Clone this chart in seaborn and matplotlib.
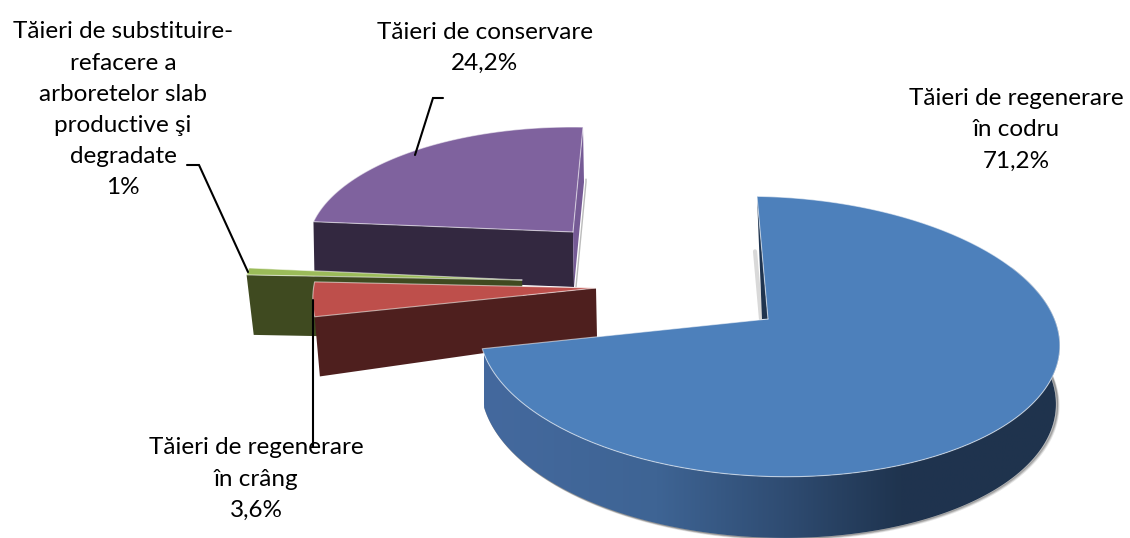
import numpy as np
import matplotlib
matplotlib.use("Agg")
import matplotlib.pyplot as plt
from matplotlib.colors import LinearSegmentedColormap
from matplotlib.patches import Polygon
import seaborn as sns

sns.set_theme(style="white")
plt.rcParams['font.family'] = ['Lato', 'DejaVu Sans']

# data
categories = ["Tăieri de regenerare\nîn codru",
              "Tăieri de regenerare\nîn crâng",
              "Tăieri de substituire-\nrefacere a\narboretelor slab\nproductive şi\ndegradate",
              "Tăieri de conservare"]
shares = [71.2, 3.6, 1.0, 24.2]
share_labels = ["71,2%", "3,6%", "1%", "24,2%"]

top_colors = sns.color_palette(["#4D80BB", "#BE4F4B", "#9BBB59", "#7F629E"])
side_colors = sns.color_palette(["#44699E", "#4E1F1E", "#3F4A20", "#332840"])

# projection of each exploded slice (pixel-space layout)
geom = [
    dict(A=(768, 319), Ab=(767, 377), R=288, Ry=138, k=.125, skew=-11, shear=4, sx=.99, sy=1.02),
    dict(A=(596, 288), Ab=(597, 337), R=281, Ry=150, k=.125, skew=0, shear=8, sx=.985, sy=1.37),
    dict(A=(522, 280), Ab=(525, 340), R=275, Ry=111, k=.125, skew=0, shear=6.5, sx=.985, sy=1.0),
    dict(A=(573, 232), Ab=(574, 287), R=262, Ry=118, k=.125, skew=10, shear=4.4, sx=1.0, sy=1.0),
]
label_pos = [(1016, 130), (256, 479), (123, 110), (485, 48)]


def rel(g, deg):
    t = np.radians(deg)
    u, v = np.cos(t), np.sin(t)
    s = 1 / (1 + g['k'] * v)
    return g['R'] * u * s + g['skew'] * v, -g['Ry'] * v * s + g['shear'] * u


def top_pt(g, deg):
    dx, dy = rel(g, deg)
    return g['A'][0] + dx, g['A'][1] + dy


def bot_pt(g, deg):
    dx, dy = rel(g, deg)
    return g['Ab'][0] + g['sx'] * dx, g['Ab'][1] + g['sy'] * dy


fig = plt.figure(figsize=(11.3, 5.38), dpi=100)
ax = fig.add_axes([0, 0, 1, 1])
ax.set_xlim(0, 1130)
ax.set_ylim(538, 0)
ax.axis('off')

# angular extents from the shares (clockwise, starting at 12 o'clock)
ends = 90 - np.cumsum(shares) * 3.6
starts = np.r_[90, ends[:-1]]
EDGE = dict(color='white', alpha=.55, lw=.8)


def draw_top(i, z):
    g = geom[i]
    d = np.linspace(starts[i], ends[i], 200)
    pts = np.array([top_pt(g, a) for a in d])
    xs = np.r_[g['A'][0], pts[:, 0], g['A'][0]]
    ys = np.r_[g['A'][1], pts[:, 1], g['A'][1]]
    ax.fill(xs, ys, color=top_colors[i], lw=0, zorder=z)
    ax.plot(xs, ys, zorder=z + .1, **EDGE)


def wall(g, a, color, z):
    p, q = top_pt(g, a), bot_pt(g, a)
    ax.fill([g['A'][0], p[0], q[0], g['Ab'][0]], [g['A'][1], p[1], q[1], g['Ab'][1]],
            color=color, lw=0, zorder=z)
    return p, q


# purple
g = geom[3]
wall(g, ends[2], side_colors[3], 1)
p, q = wall(g, ends[3], "#755a95", 1.1)
ax.plot([q[0] + 2, q[0] + 2, g['Ab'][0] + 2], [q[1] - 3, q[1], g['Ab'][1]], color='#bbbbbb', lw=1, zorder=.9)
draw_top(3, 2)

# green
wall(geom[2], starts[2], side_colors[2], 3)
draw_top(2, 4)

# red
wall(geom[1], starts[1], side_colors[1], 5)
draw_top(1, 6)

# blue: soft shadow, gradient rim, inner wall, top
g = geom[0]
d = np.linspace(ends[0] % 360, 385, 280)
bottom = np.array([bot_pt(g, a) for a in d])
upper = np.array([top_pt(g, a) for a in d])
for off, al in ((5, .10), (3.5, .16), (2, .24)):
    ax.plot(bottom[:, 0] + off * .5, bottom[:, 1] + off * .5 - 1, color='black', alpha=al, lw=1.6, zorder=6.5)
rim_cmap = LinearSegmentedColormap.from_list(
    "rim", [(0, "#44699E"), (.30, "#3E6494"), (.52, "#2F4C72"), (.72, "#1F344F"), (1, "#1F334D")])
rim = Polygon(np.r_[upper, bottom[::-1]], closed=True, facecolor='none', edgecolor='none', zorder=7)
ax.add_patch(rim)
img = ax.imshow(np.linspace(0, 1, 256)[None, :], cmap=rim_cmap, extent=(484, 1062, 545, 200),
                aspect='auto', zorder=7, interpolation='bilinear')
img.set_clip_path(rim)
ax.set_xlim(0, 1130)
ax.set_ylim(538, 0)
# inner wall seen behind the 12 o'clock edge
p = top_pt(g, 90)
ax.fill([p[0], g['A'][0] - 6, g['A'][0]], [p[1], g['A'][1], g['A'][1]], color="#1F344F", lw=0, zorder=7)
ax.plot([p[0] - 2, g['A'][0] - 7], [p[1] + 55, g['A'][1]], color='black', alpha=.15, lw=3, zorder=6.5)
draw_top(0, 8)

# leader lines
leader = dict(color='black', lw=1.5, zorder=9, solid_joinstyle='miter')
ax.plot([443, 433, 415], [98, 98, 155], **leader)
ax.plot([187, 199, 248], [165, 165, 272], **leader)
ax.plot([313, 313], [300, 447], **leader)

# labels
for cat, lab, (x, y) in zip(categories, share_labels, label_pos):
    ax.text(x, y, f"{cat}\n{lab}", ha='center', va='center', fontsize=17.5, color='black',
            linespacing=1.6, zorder=10)

sns.despine(ax=ax, left=True, bottom=True)
fig.savefig("out.png", dpi=100, facecolor='white')
